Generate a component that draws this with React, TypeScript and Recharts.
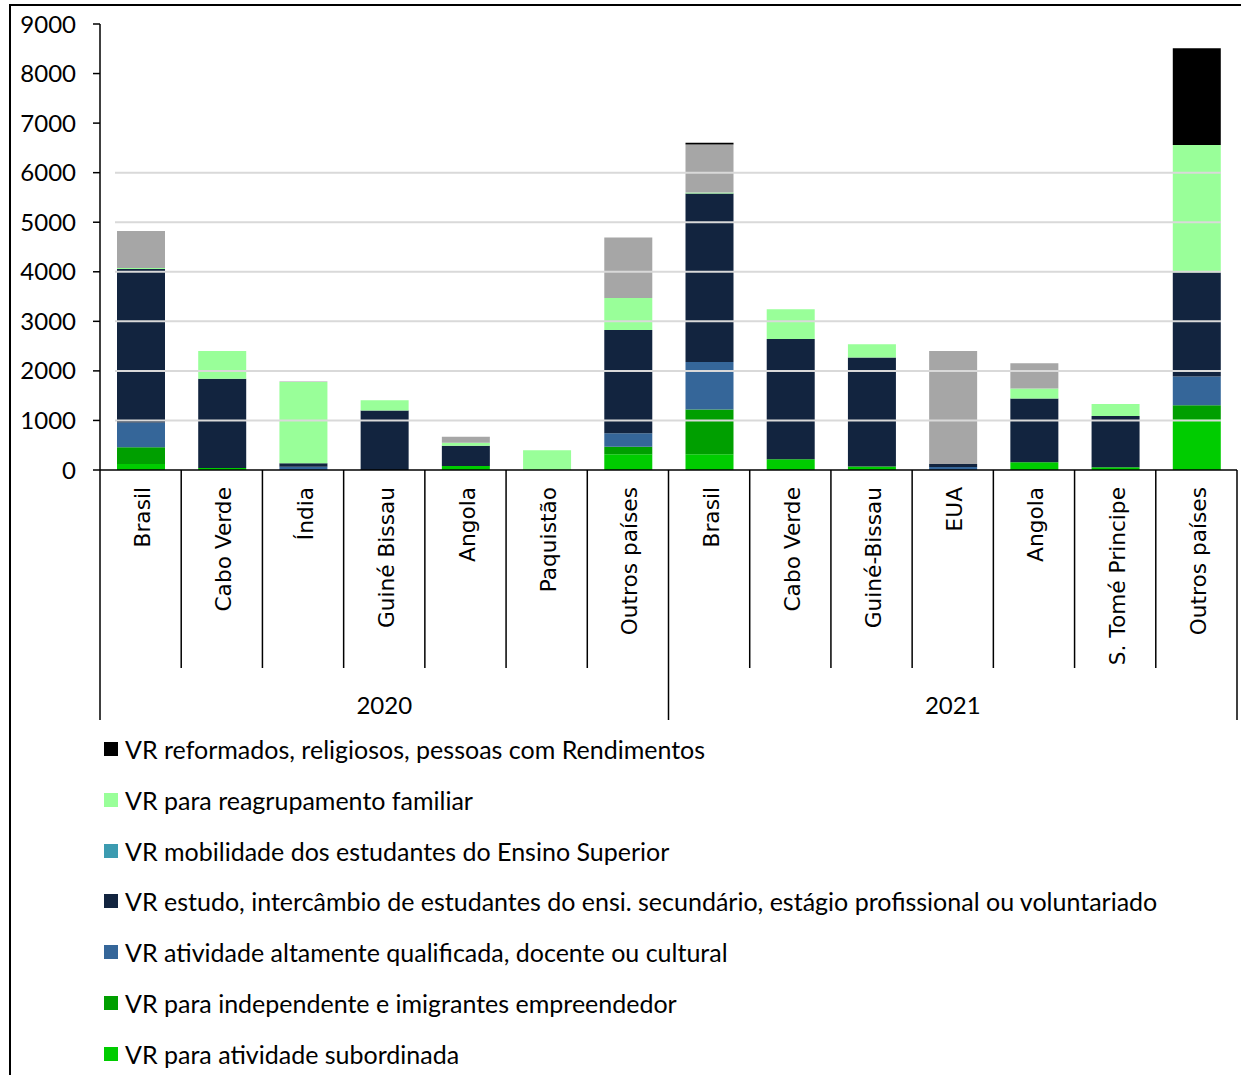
import React from "react";
import {
  BarChart,
  Bar,
  XAxis,
  YAxis,
  ReferenceLine,
} from "recharts";

const categories = [
  "Brasil", "Cabo Verde", "Índia", "Guiné Bissau", "Angola", "Paquistão", "Outros países",
  "Brasil", "Cabo Verde", "Guiné-Bissau", "EUA", "Angola", "S. Tomé Principe", "Outros países",
];
const years = [
  "2020", "2020", "2020", "2020", "2020", "2020", "2020",
  "2021", "2021", "2021", "2021", "2021", "2021", "2021",
];

// valores (aprox.)
const subordinada = [120, 40, 0, 0, 80, 0, 320, 320, 215, 70, 0, 155, 55, 1030];
const independente = [340, 0, 0, 0, 0, 0, 150, 900, 0, 0, 0, 0, 0, 275];
const altamente = [500, 0, 65, 0, 0, 0, 270, 960, 0, 0, 60, 0, 0, 580];
const estudo = [3095, 1800, 70, 1200, 410, 0, 2085, 3400, 2430, 2200, 60, 1290, 1035, 2105];
const mobilidade = [0, 0, 0, 0, 0, 0, 0, 0, 0, 0, 0, 0, 0, 0];
const reagrupamento = [20, 560, 1640, 210, 60, 400, 645, 20, 600, 270, 0, 200, 240, 2570];
const outros = [750, 0, 10, 0, 120, 0, 1220, 970, 0, 0, 2280, 510, 0, 0];
const reformados = [0, 0, 0, 0, 0, 0, 0, 35, 0, 0, 0, 0, 0, 1950];

const yTicks = [0, 1000, 2000, 3000, 4000, 5000, 6000, 7000, 8000, 9000];
const gridValues = [1000, 2000, 3000, 4000, 5000, 6000];

const series = [
  { key: "subordinada", name: "VR para atividade subordinada", color: "#00cc00", values: subordinada },
  { key: "independente", name: "VR para independente e imigrantes empreendedor", color: "#009f00", values: independente },
  { key: "altamente", name: "VR atividade altamente qualificada, docente ou cultural", color: "#356699", values: altamente },
  { key: "estudo", name: "VR estudo, intercâmbio de estudantes do ensi. secundário, estágio profissional ou voluntariado", color: "#12243f", values: estudo },
  { key: "mobilidade", name: "VR mobilidade dos estudantes do Ensino Superior", color: "#3c9bb0", values: mobilidade },
  { key: "reagrupamento", name: "VR para reagrupamento familiar", color: "#99ff99", values: reagrupamento },
  { key: "outros", name: "Outros", color: "#a6a6a6", values: outros },
  { key: "reformados", name: "VR reformados, religiosos, pessoas com Rendimentos", color: "#000000", values: reformados },
];

const legendKeys = ["reformados", "reagrupamento", "mobilidade", "estudo", "altamente", "independente", "subordinada"];

const data = categories.map((label, i) => {
  const row: Record<string, string | number> = { label, year: years[i] };
  series.forEach((s) => {
    row[s.key] = s.values[i];
  });
  return row;
});

const W = 1241;
const H = 730;
const M = { top: 24, right: 4, left: 0, bottom: 10 };
const Y_W = 100;
const X_H = 250;
const AXIS_Y = H - M.bottom - X_H;
const BAND = (W - M.left - M.right - Y_W) / categories.length;

function CategoryTick(props: any) {
  const { x, payload } = props;
  const i = payload.index;
  const half = BAND / 2;
  const groupEnd = i === categories.length - 1 || years[i + 1] !== years[i];
  const idx = years.map((y, k) => (y === years[i] ? k : -1)).filter((k) => k >= 0);
  const mid = idx[Math.floor(idx.length / 2)];
  return (
    <g>
      <text
        x={x + 2}
        y={AXIS_Y + 17}
        transform={`rotate(-90, ${x + 2}, ${AXIS_Y + 17})`}
        textAnchor="end"
        dominantBaseline="central"
        fontFamily="DejaVu Sans"
        fontSize={21.7}
        fill="#000"
      >
        {categories[i]}
      </text>
      {i === 0 && (
        <line x1={x - half} x2={x - half} y1={AXIS_Y} y2={AXIS_Y + 250} stroke="#000" strokeWidth={1.5} />
      )}
      <line
        x1={x + half}
        x2={x + half}
        y1={AXIS_Y}
        y2={groupEnd ? AXIS_Y + 250 : AXIS_Y + 198}
        stroke="#000"
        strokeWidth={1.5}
      />
      {i === mid && (
        <text
          x={x}
          y={AXIS_Y + 234}
          textAnchor="middle"
          dominantBaseline="central"
          fontFamily="Lato"
          fontSize={24}
          fill="#000"
        >
          {years[i]}
        </text>
      )}
    </g>
  );
}

function GridLine(p: any) {
  if (p == null || p.x1 == null) return <g />;
  return <line x1={p.x1 + 15} x2={p.x2 - 16} y1={p.y1} y2={p.y2} stroke="#d9d9d9" strokeWidth={2} />;
}

export default function App() {
  const legend = legendKeys.map((k) => series.find((s) => s.key === k)!);
  return (
    <div style={{ position: "fixed", left: 0, top: 0, width: W, height: 1075, background: "#fff" }}>
      <div
        style={{
          position: "absolute",
          left: 9,
          top: 4,
          right: 0,
          bottom: 0,
          borderTop: "2px solid #000",
          borderLeft: "2px solid #000",
        }}
      />
      <div style={{ position: "absolute", left: 0, top: 0 }}>
        <BarChart width={W} height={H} data={data} margin={M} barSize={48}>
          {gridValues.map((v) => (
            <ReferenceLine key={v} y={v} stroke="#d9d9d9" strokeWidth={2} shape={GridLine} />
          ))}
          <XAxis
            dataKey="label"
            height={X_H}
            interval={0}
            tickLine={false}
            axisLine={{ stroke: "#000", strokeWidth: 1.5 }}
            tick={<CategoryTick />}
          />
          <YAxis
            width={Y_W}
            domain={[0, 9000]}
            ticks={yTicks}
            interval={0}
            tickSize={7}
            tickMargin={17}
            tickLine={{ stroke: "#000", strokeWidth: 1.5 }}
            axisLine={{ stroke: "#000", strokeWidth: 1.5 }}
            tick={{ fill: "#000", fontSize: 24, fontFamily: "Lato" }}
          />
          {series.map((s) => (
            <Bar
              key={s.key}
              dataKey={s.key}
              name={s.name}
              stackId="a"
              fill={s.color}
              isAnimationActive={false}
            />
          ))}
        </BarChart>
      </div>
      {legend.map((s, i) => (
        <div
          key={s.key}
          style={{
            position: "absolute",
            left: 104,
            top: 749 + i * 50.8 - 14,
            height: 28,
            display: "flex",
            alignItems: "center",
            fontFamily: "Lato",
            fontSize: 25,
            color: "#000",
            whiteSpace: "nowrap",
          }}
        >
          <span style={{ display: "inline-block", width: 14, height: 14, background: s.color, marginRight: 7 }} />
          {s.name}
        </div>
      ))}
    </div>
  );
}
